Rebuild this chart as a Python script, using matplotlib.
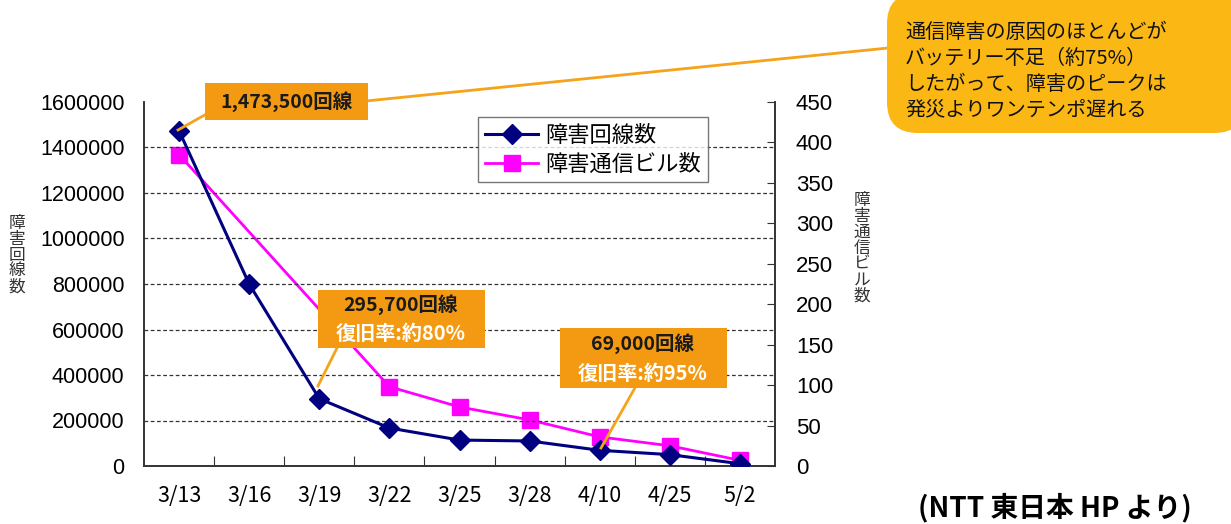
import matplotlib
matplotlib.use('Agg')
import matplotlib.pyplot as plt
from matplotlib.patches import Rectangle, FancyBboxPatch
from matplotlib.lines import Line2D

plt.rcParams['font.family'] = ['Noto Sans CJK JP', 'DejaVu Sans']

# data
dates = ['3/13', '3/16', '3/19', '3/22', '3/25', '3/28', '4/10', '4/25', '5/2']
lines_down = [1473500, 800000, 295700, 167000, 114000, 110000, 69000, 50000, 10000]
bldg_dates = ['3/13', '3/22', '3/25', '3/28', '4/10', '4/25', '5/2']
bldg_down = [385, 98, 73, 57, 36, 25, 7]

left_ticks = [0, 200000, 400000, 600000, 800000, 1000000, 1200000, 1400000, 1600000]
right_ticks = [0, 50, 100, 150, 200, 250, 300, 350, 400, 450]

W, H = 1231, 524


def px(x, y):
    # pixel position -> figure fraction
    return x / W, 1 - y / H


ORANGE = '#F39A12'
YELLOW = '#FBB814'
LINE_OR = '#F5A31A'

fig = plt.figure(figsize=(W / 100, H / 100), dpi=100)
fig.patch.set_facecolor('white')
ax = fig.add_axes([144 / W, 1 - 466 / H, (775 - 144) / W, (466 - 102) / H])
ax2 = ax.twinx()

xs = list(range(len(dates)))
ax.plot(xs, lines_down, color='#000080', lw=2.2, marker='D', ms=10,
        label='障害回線数', zorder=4)
bx = [dates.index(d) for d in bldg_dates]
ax2.plot(bx, bldg_down, color='#FF00FF', lw=2.0, marker='s', ms=11,
         label='障害通信ビル数', zorder=3)

ax.set_xlim(-0.5, len(dates) - 0.5)
ax.set_ylim(0, 1600000)
ax2.set_ylim(0, 450)
ax.set_yticks(left_ticks)
ax.set_yticklabels([str(v) for v in left_ticks], family='Liberation Sans', fontsize=15.5)
ax2.set_yticks(right_ticks)
ax2.set_yticklabels([str(v) for v in right_ticks], family='Liberation Sans', fontsize=16)
ax.tick_params(axis='y', length=0, pad=14)
ax2.tick_params(axis='y', direction='in', length=6, pad=15, color='#333333')

ax.set_xticks([i + 0.5 for i in range(len(dates) - 1)])
ax.set_xticklabels([])
ax.set_xticks(xs, minor=True)
ax.set_xticklabels(dates, minor=True, fontsize=15.5)
ax.tick_params(axis='x', which='major', direction='in', length=7, color='#333333')
ax.tick_params(axis='x', which='minor', length=0, pad=14)

for v in left_ticks[1:-1]:
    ax.axhline(v, color='#333333', lw=0.9, ls=(0, (3, 2)), zorder=1)

for a in (ax, ax2):
    a.spines['top'].set_visible(False)
    for s in ('left', 'right', 'bottom'):
        a.spines[s].set_color('#333333')
        a.spines[s].set_linewidth(1.2)
ax.set_zorder(ax2.get_zorder() + 1)
ax.patch.set_visible(False)

h1, l1 = ax.get_legend_handles_labels()
h2, l2 = ax2.get_legend_handles_labels()
leg = ax.legend(h1 + h2, l1 + l2, loc='upper left', bbox_to_anchor=(0.53, 0.958),
                borderaxespad=0, fontsize=16, frameon=True, fancybox=False,
                edgecolor='#555555', borderpad=0.3, handlelength=2.4,
                handletextpad=0.3, labelspacing=0.25)
leg.get_frame().set_linewidth(1.0)

# axis titles, stacked vertically
fig.text(*px(17, 255), '障\n害\n回\n線\n数', ha='center', va='center',
         fontsize=12, linespacing=0.92, color='#333333')
fig.text(*px(862, 248), '障\n害\n通\n信\nビ\nル\n数', ha='center', va='center',
         fontsize=12, linespacing=0.92, color='#333333')

# connector lines
def connect(x0, y0, x1, y1):
    fig.add_artist(Line2D([x0 / W, x1 / W], [1 - y0 / H, 1 - y1 / H],
                          color=LINE_OR, lw=2, transform=fig.transFigure, zorder=5))

connect(178, 130, 210, 112)
connect(366, 101, 888, 48)
connect(338, 346, 318, 386)
connect(636, 386, 601, 448)


def box(x0, y0, x1, y1, color):
    fig.add_artist(Rectangle(px(x0, y1), (x1 - x0) / W, (y1 - y0) / H,
                             facecolor=color, edgecolor='none',
                             transform=fig.transFigure, zorder=6))


box(205, 83, 368, 120, ORANGE)
fig.text(*px(286, 102), '1,473,500回線', ha='center', va='center',
         fontsize=14, weight='bold', color='#1a1a1a', zorder=7)

box(318, 290, 485, 348, ORANGE)
fig.text(*px(401, 305), '295,700回線', ha='center', va='center',
         fontsize=14, weight='bold', color='#1a1a1a', zorder=7)
fig.text(*px(401, 333), '復旧率:約80%', ha='center', va='center',
         fontsize=14.5, weight='bold', color='white', zorder=7)

box(560, 328, 727, 388, ORANGE)
fig.text(*px(643, 344), '69,000回線', ha='center', va='center',
         fontsize=14, weight='bold', color='#1a1a1a', zorder=7)
fig.text(*px(643, 373), '復旧率:約95%', ha='center', va='center',
         fontsize=14.5, weight='bold', color='white', zorder=7)

# callout
fig.add_artist(FancyBboxPatch(px(887, 133), (1245 - 887) / W, 140 / H,
                              boxstyle='round,pad=0,rounding_size=0.025',
                              facecolor=YELLOW, edgecolor='none',
                              transform=fig.transFigure, zorder=6,
                              mutation_aspect=W / H))
note = ['通信障害の原因のほとんどが', 'バッテリー不足（約75%）',
        'したがって、障害のピークは', '発災よりワンテンポ遅れる']
for i, t in enumerate(note):
    fig.text(*px(905, 33 + i * 25.7), t, ha='left', va='center',
             fontsize=14.5, color='#111111', zorder=7)

fig.text(*px(1055, 508), '(NTT 東日本 HP より)', ha='center', va='center',
         fontsize=20, weight='bold', color='black')

fig.savefig('out.png', dpi=100)
